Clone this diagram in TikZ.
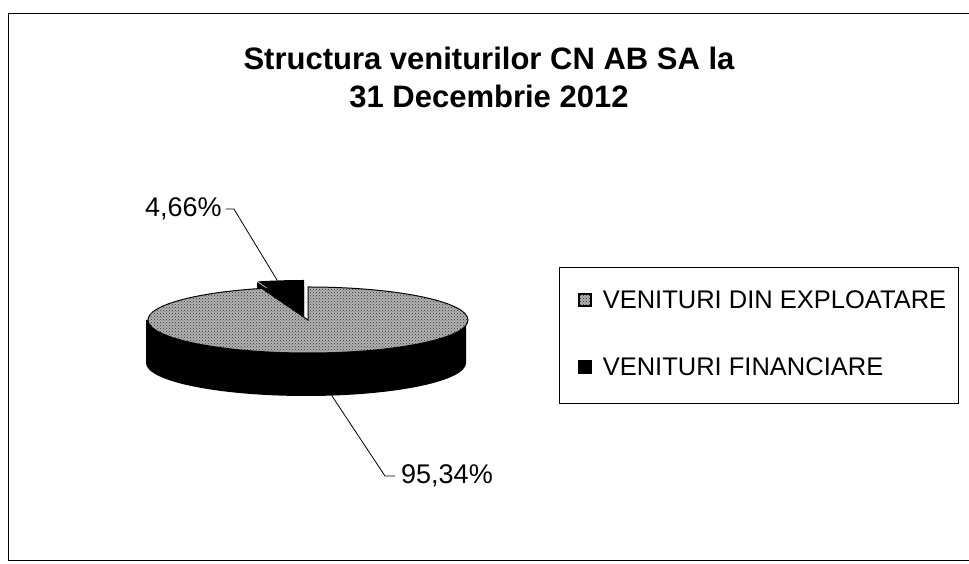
\documentclass[tikz,border=0pt]{standalone}
\usepackage{fontspec}
\setmainfont{Liberation Sans}
\usetikzlibrary{positioning,patterns}

\begin{document}
\begin{tikzpicture}[x=1pt,y=1pt,
  slicegray/.style={fill=black!30,postaction={pattern=crosshatch dots,pattern color=black!80}},
  pct/.style={font=\fontsize{27}{32}\selectfont,inner sep=0pt},
  legtext/.style={font=\fontsize{25.5}{30}\selectfont,inner sep=0pt},
  legmark/.style={draw=black,line width=1.2pt,minimum size=12pt,inner sep=0pt}]
  \useasboundingbox (0,0) rectangle (969,564);
  \draw[line width=0.8pt] (969,551) -- (8,551) -- (8,4) -- (969,4);
  \node[font=\fontsize{31}{38}\selectfont\bfseries,align=center,inner sep=0pt,anchor=north] (title) at (489,517) {Structura veniturilor CN AB SA la\\31 Decembrie 2012};
  \fill[black] (146,244) -- (146,201) arc[start angle=180,end angle=360,x radius=160,y radius=33] -- (466,244) -- cycle;
  \fill[black] (304,244) -- ++(0,33) arc[start angle=90,end angle=106.8,x radius=160,y radius=33] -- cycle;
  \fill[black] (304,251) -- ++(0,33) arc[start angle=90,end angle=106.8,x radius=160,y radius=33] -- cycle;
  \fill[black] (304,244) -- (304,251) -- ++(-47,31) -- ++(0,-7) -- cycle;
  \draw[slicegray,draw=black,line width=1pt] (308,244) -- (308,277) arc[start angle=90,end angle=-253.2,x radius=160,y radius=33] -- cycle;
  \node[pct,anchor=west] (psmall) at (145,355) {4,66\%};
  \coordinate (tsmall) at (277,284);
  \draw[line width=0.8pt] ([xshift=4pt]psmall.east) -- ++(8,0) -- (tsmall);
  \node[pct,anchor=west] (pbig) at (401,88) {95,34\%};
  \coordinate (tbig) at (332,168);
  \draw[line width=0.8pt] (tbig) -- ([xshift=-16pt]pbig.west) -- ([xshift=-6pt]pbig.west);
  \node[draw=black,line width=0.8pt,minimum width=399pt,minimum height=136pt,anchor=north west,inner sep=0pt] (legend) at (559,297) {};
  \node[legmark,slicegray] (mk1) at (585,264) {};
  \node[legtext,right=11pt of mk1] (lx1) {VENITURI DIN EXPLOATARE};
  \node[legmark,fill=black] (mk2) at (585,197) {};
  \node[legtext,right=11pt of mk2] (lx2) {VENITURI FINANCIARE};
\end{tikzpicture}
\end{document}
